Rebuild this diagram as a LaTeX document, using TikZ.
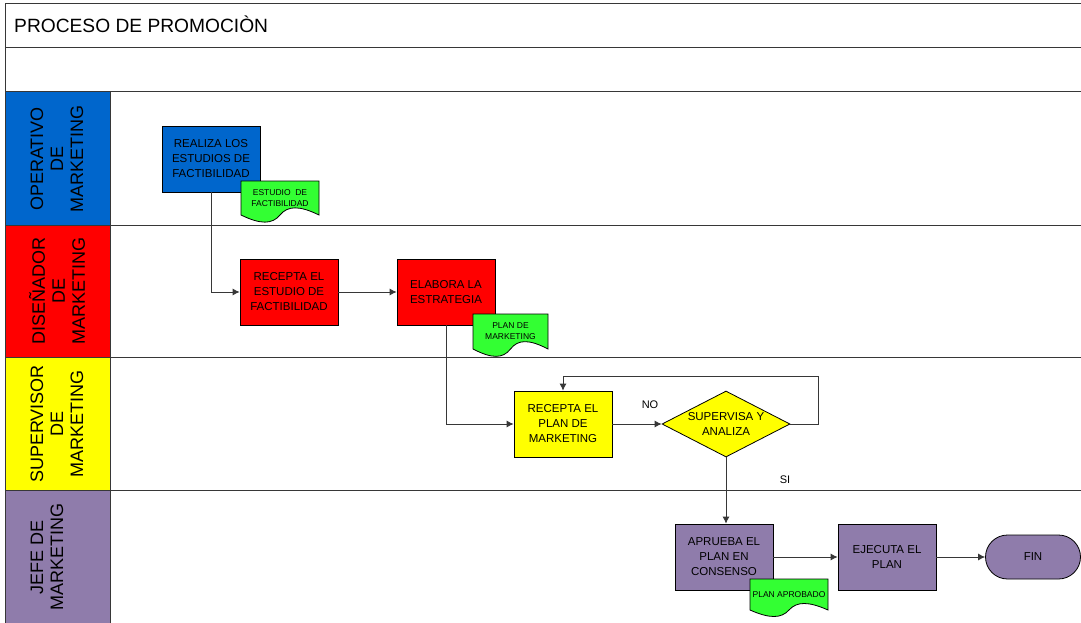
\documentclass[tikz,border=0pt]{standalone}
\usepackage{fontspec}
\setmainfont{Liberation Sans}
\usetikzlibrary{arrows.meta,shapes.geometric,calc}
\definecolor{azul}{RGB}{0,102,204}
\definecolor{rojo}{RGB}{255,0,0}
\definecolor{amarillo}{RGB}{255,255,0}
\definecolor{morado}{RGB}{143,124,171}
\definecolor{verde}{RGB}{51,255,51}
\definecolor{linea}{RGB}{55,55,55}
\tikzset{
	marco/.style={draw=linea, line width=1pt},
	proceso/.style={draw=black, line width=0.8pt, minimum width=98pt, minimum height=66pt, align=center, inner sep=1pt, font=\fontsize{11.5}{15}\selectfont},
	decision/.style={diamond, draw=black, line width=0.8pt, fill=amarillo, aspect=1.94, minimum width=128pt, minimum height=66pt, inner sep=0pt, align=center, font=\fontsize{11.5}{15}\selectfont},
	terminal/.style={draw=black, line width=0.8pt, fill=morado, rounded corners=22pt, minimum width=95pt, minimum height=44pt, font=\fontsize{11.5}{15}\selectfont},
	flecha/.style={draw=linea, line width=0.8pt, -{Latex[length=7pt,width=7pt]}},
	carril/.style={rotate=90, align=center, font=\fontsize{18}{20}\selectfont},
	doctexto/.style={align=center, inner sep=0pt, font=\fontsize{8.5}{11}\selectfont},
	etiqueta/.style={font=\fontsize{11}{13}\selectfont}
}
\def\documento[#1](#2,#3)(#4:#5)#6{
	\draw[line width=0.8pt, fill=verde] (#2,#3) -- ({#2+#4},#3) -- ({#2+#4},{#3+#5})
		.. controls ({#2+0.75*#4},{#3+0.72*#5}) and ({#2+0.6*#4},{#3+0.72*#5}) .. ({#2+0.5*#4},{#3+#5})
		.. controls ({#2+0.4*#4},{#3+1.28*#5}) and ({#2+0.25*#4},{#3+1.28*#5}) .. (#2,{#3+#5}) -- cycle;
	\node[doctexto] (#1) at ({#2+0.5*#4},{#3+0.5*#5}) {#6};
}

\begin{document}
\begin{tikzpicture}[x=1pt,y=-1pt]
				\useasboundingbox (0,0) rectangle (1081,623);
				
				\fill[azul] (5,92) rectangle (110,225);
				\fill[rojo] (5,225) rectangle (110,357);
				\fill[amarillo] (5,357) rectangle (110,490);
				\fill[morado] (5,490) rectangle (110,623);
				
				\draw[marco] (1081,4) -- (5,4) -- (5,623);
				\draw[marco] (5,48) -- (1081,48);
				\draw[marco] (5,92) -- (1081,92);
				\draw[marco] (5,225) -- (1081,225);
				\draw[marco] (5,357) -- (1081,357);
				\draw[marco] (5,490) -- (1081,490);
				\draw[marco] (110,92) -- (110,623);
				
				\node[anchor=base west, inner sep=0pt, font=\fontsize{19.2}{23}\selectfont] (titulo) at (14,33) {PROCESO DE PROMOCIÒN};
				
				\node[carril] (loper) at (57,159) {OPERATIVO\\DE\\MARKETING};
				\node[carril] (ldise) at (57,291) {DISEÑADOR\\DE\\MARKETING};
				\node[carril] (lsuper) at (57,424) {SUPERVISOR\\DE\\MARKETING};
				\node[carril] (ljefe) at (47,557) {JEFE DE\\MARKETING};
				
				\node[proceso, fill=azul] (realiza) at (211,159) {REALIZA LOS\\ESTUDIOS DE\\FACTIBILIDAD};
				\documento[docest](241,181)(78:34){ESTUDIO\ \ DE\\FACTIBILIDAD}
				
				\node[proceso, fill=rojo] (recepest) at (289,292) {RECEPTA EL\\ESTUDIO DE\\FACTIBILIDAD};
				\node[proceso, fill=rojo] (elabora) at (446,292) {ELABORA LA\\ESTRATEGIA};
				\documento[docplan](473,314)(75:35){PLAN DE\\MARKETING}
				
				\node[proceso, fill=amarillo] (recplan) at (563,424) {RECEPTA EL\\PLAN DE\\MARKETING};
				\node[decision] (supervisa) at (726,424) {SUPERVISA Y\\ANALIZA};
				
				\node[proceso, fill=morado] (aprueba) at (724,557) {APRUEBA EL\\PLAN EN\\CONSENSO};
				\documento[docapr](750,579)(78:31){PLAN APROBADO}
				\node[proceso, fill=morado] (ejecuta) at (887,557) {EJECUTA EL\\PLAN};
				\node[terminal] (fin) at (1033,557) {FIN};
				
				\draw[flecha] (realiza.south) |- (recepest.west);
				\draw[flecha] (recepest) -- (elabora);
				\draw[flecha] (elabora.south) |- (recplan.west);
				\draw[flecha] (recplan) -- (supervisa);
				\draw[flecha] (supervisa.east) -- ++(28,0) |- ([yshift=14pt]recplan.north) -- (recplan.north);
				\draw[flecha] (supervisa.south) -- (supervisa.south |- aprueba.north);
				\draw[flecha] (aprueba) -- (ejecuta);
				\draw[flecha] (ejecuta) -- (fin);
				
				\node[etiqueta] (no) at (650,405) {NO};
				\node[etiqueta] (si) at (785,480) {SI};
			\end{tikzpicture}
\end{document}
